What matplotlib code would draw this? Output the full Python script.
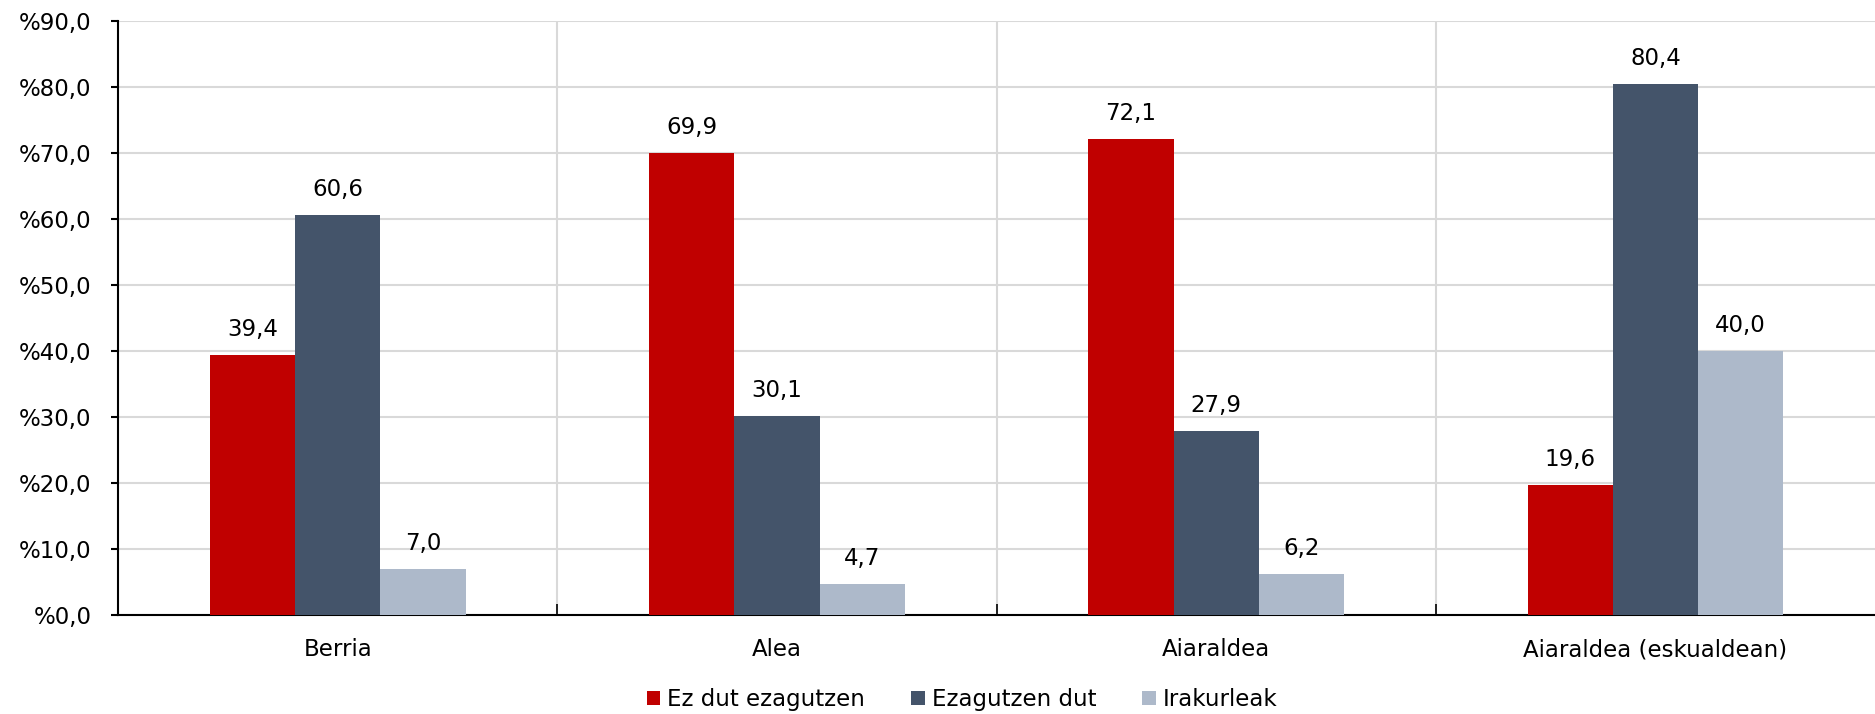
import matplotlib.pyplot as plt
import numpy as np

categories = ["Berria", "Alea", "Aiaraldea", "Aiaraldea (eskualdean)"]
series_names = ["Ez dut ezagutzen", "Ezagutzen dut", "Irakurleak"]
ez_dut = [39.4, 69.9, 72.1, 19.6]
ezagutzen = [60.6, 30.1, 27.9, 80.4]
irakurleak = [7.0, 4.7, 6.2, 40.0]
colors = ["#C00000", "#44546A", "#ADB9CA"]

plt.rcParams['font.family'] = ['DejaVu Sans']
fs = 16.5

fig = plt.figure(figsize=(18.75, 7.14), dpi=100)
ax = fig.add_axes([0.063, 0.139, 0.937, 0.832])

x = np.arange(len(categories))
w = 0.194
for k, (vals, name) in enumerate(zip([ez_dut, ezagutzen, irakurleak], series_names)):
    pos = x + (k - 1) * w
    ax.bar(pos, vals, width=w, color=colors[k], label=name, zorder=3)
    for p, v in zip(pos, vals):
        ax.annotate(("%.1f" % v).replace(".", ","), (p, v), xytext=(0, 10),
                    textcoords="offset points", ha="center", va="bottom",
                    fontsize=fs, color="#000000")

ax.set_xlim(-0.5, len(categories) - 0.5)
ax.set_ylim(0, 90)
ax.set_yticks(np.arange(0, 91, 10))
ax.set_yticklabels(["%%%d,0" % t for t in range(0, 91, 10)], fontsize=fs)
ax.set_xticks(x)
ax.set_xticklabels(categories, fontsize=fs)
ax.tick_params(axis="x", length=0, pad=17)
ax.tick_params(axis="y", length=5, width=1.5, pad=14)

ax.set_xticks(np.arange(0.5, len(categories) - 0.5, 1), minor=True)
ax.tick_params(axis="x", which="minor", direction="in", length=8, width=1.2)
ax.grid(axis="y", color="#D9D9D9", linewidth=1.5, zorder=0)
ax.grid(axis="x", which="minor", color="#D9D9D9", linewidth=1.5, zorder=0)

for s in ["top", "right"]:
    ax.spines[s].set_visible(False)
ax.spines["left"].set_linewidth(1.5)
ax.spines["bottom"].set_linewidth(1.5)

fig.legend(loc="center", bbox_to_anchor=(0.513, 0.02), ncol=3, frameon=False,
           fontsize=fs, handlelength=0.6, handleheight=0.6, handletextpad=0.3,
           columnspacing=2.0)

fig.savefig("out.png", dpi=100)
